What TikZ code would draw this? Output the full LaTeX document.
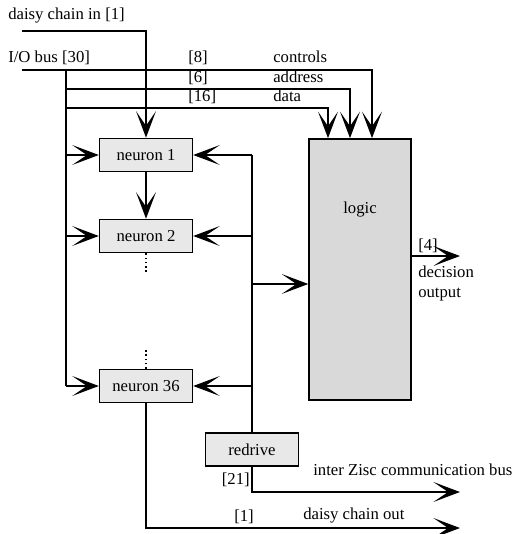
\documentclass[tikz,border=0pt]{standalone}
\usepackage{fontspec}
\setmainfont{Liberation Serif}
\usetikzlibrary{arrows.meta}

\tikzset{
  unit/.style={draw, rectangle, fill=gray!18, line width=1.2pt, minimum width=2.46cm, minimum height=0.875cm, inner sep=0pt},
  logicbox/.style={draw, rectangle, fill=gray!30, line width=1.2pt, minimum width=2.70cm, minimum height=6.92cm, inner sep=0pt},
  txt/.style={inner sep=0pt},
  bus/.style={line width=1.2pt},
  arr/.style={line width=1.2pt, -{Stealth[length=20pt, width=15pt, inset=11pt]}}
}

\begin{document}
\begin{tikzpicture}[x=0.0265cm, y=-0.0265cm, font=\fontsize{12.6}{15}\selectfont]
\useasboundingbox (0,0) rectangle (530,534);

% Define the nodes with coordinates
\node[unit] (N1) at (146,155) {neuron 1};
\node[unit] (N2) at (146,236) {neuron 2};
\node[unit] (N36) at (146,386) {neuron 36};
\node[logicbox] (LG) at (360,269.5) {};
\node[txt] (LGL) at (360,210) {logic};
\node[unit] (RD) at (252,449.5) {redrive};

% Labels
\node[txt, anchor=base west] (DCI) at (8,19) {daisy chain in [1]};
\node[txt, anchor=base west] (IOB) at (8,62) {I/O bus [30]};
\node[txt, anchor=base west] (W8) at (188,62) {[8]};
\node[txt, anchor=base west] (W6) at (188,82) {[6]};
\node[txt, anchor=base west] (W16) at (188,101) {[16]};
\node[txt, anchor=base west] (CTL) at (273,62) {controls};
\node[txt, anchor=base west] (ADR) at (273,82) {address};
\node[txt, anchor=base west] (DAT) at (273,101) {data};
\node[txt, anchor=base west] (W4) at (418,250) {[4]};
\node[txt, anchor=north west, align=left] (DEC) at (418,266) {decision\\output};
\node[txt, anchor=base east] (W21) at (250,484) {[21]};
\node[txt, anchor=base west] (IZB) at (313,475) {inter Zisc communication bus};
\node[txt, anchor=base] (W1) at (244,521) {[1]};
\node[txt, anchor=base west] (DCO) at (303,519) {daisy chain out};

% Bus coordinates
\coordinate (DCS) at (22,31);
\coordinate (IOS) at (22,70);
\coordinate (LB) at (66,70);
\coordinate (CTLD) at (372,70);
\coordinate (ADRS) at (66,89);
\coordinate (ADRD) at (350,89);
\coordinate (DATS) at (66,108);
\coordinate (DATD) at (328,108);
\coordinate (RB) at (252,155);
\coordinate (RBM) at (252,284);
\coordinate (DECE) at (460,256);
\coordinate (IZE) at (460,492);
\coordinate (DCE) at (460,528);

% Daisy chain
\draw[arr] (DCS) -| (N1.north);
\draw[arr] (N1) -- (N2);
\draw[bus, dotted] (N2.south) -- ++(0,20);
\draw[bus, dotted] (N36.north) -- ++(0,-20);
\draw[arr] (N36.south) |- (DCE);

% I/O bus to logic
\draw[arr] (IOS) -- (CTLD) -- (CTLD |- LG.north);
\draw[arr] (ADRS) -- (ADRD) -- (ADRD |- LG.north);
\draw[arr] (DATS) -- (DATD) -- (DATD |- LG.north);

% I/O bus to neurons
\draw[bus] (LB) -- (LB |- N36);
\draw[arr] (LB |- N1) -- (N1);
\draw[arr] (LB |- N2) -- (N2);
\draw[arr] (LB |- N36) -- (N36);

% Neuron outputs
\draw[bus] (RB) -- (RD.north);
\draw[arr] (RB) -- (N1);
\draw[arr] (RB |- N2) -- (N2);
\draw[arr] (RB |- N36) -- (N36);
\draw[arr] (RBM) -- (RBM -| LG.west);
\draw[arr] (RD.south) |- (IZE);
\draw[arr] (LG.east |- DECE) -- (DECE);
\end{tikzpicture}
\end{document}
